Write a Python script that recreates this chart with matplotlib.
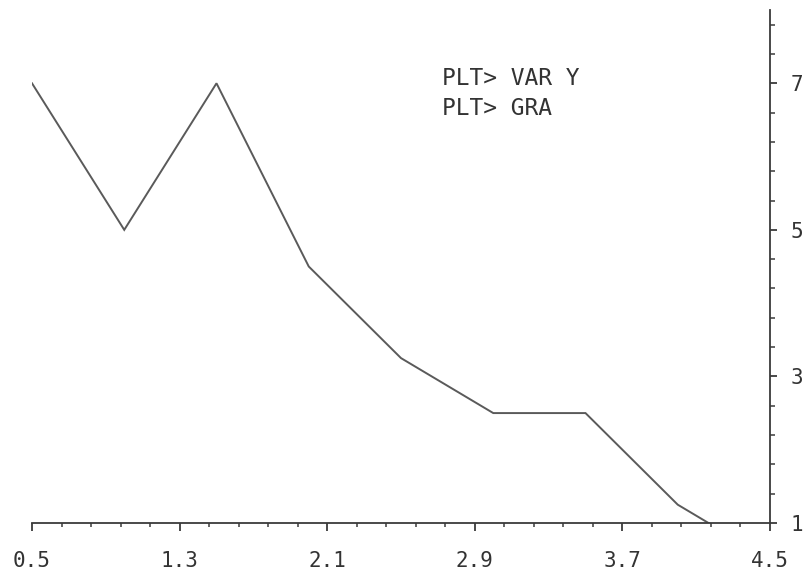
import numpy as np
import matplotlib.pyplot as plt
from matplotlib.ticker import FixedLocator

# data
x = [0.5, 1.0, 1.5, 2.0, 2.5, 3.0, 3.5, 4.0, 4.5]
y = [7.0, 5.0, 7.0, 4.5, 3.25, 2.5, 2.5, 1.25, 0.5]
xticks = [0.5, 1.3, 2.1, 2.9, 3.7, 4.5]
yticks = [1, 3, 5, 7]
prompt_lines = ["PLT> VAR Y", "PLT> GRA"]

ink = "#3a3a3a"
plt.rcParams["font.family"] = ["DejaVu Sans Mono"]

fig = plt.figure(figsize=(8.07, 5.72), dpi=100)
ax = fig.add_axes([32 / 807, 49 / 572, (770 - 32) / 807, (523 - 10) / 572])

ax.plot(x, y, color="#5a5a5a", lw=1.4, solid_joinstyle="miter")

ax.set_xlim(0.5, 4.5)
ax.set_ylim(1, 8)

ax.spines["top"].set_visible(False)
ax.spines["left"].set_visible(False)
for s in ("bottom", "right"):
    ax.spines[s].set_color(ink)
    ax.spines[s].set_linewidth(1.3)

ax.xaxis.set_major_locator(FixedLocator(xticks))
ax.set_xticklabels(["%.1f" % v for v in xticks])
ax.xaxis.set_minor_locator(FixedLocator(np.arange(0.5, 4.51, 0.16)))
ax.yaxis.tick_right()
ax.yaxis.set_major_locator(FixedLocator(yticks))
ax.set_yticklabels([str(v) for v in yticks])
ax.yaxis.set_minor_locator(FixedLocator(np.arange(1, 8.01, 0.4)))

ax.tick_params(axis="x", which="major", direction="out", length=6, width=1.3,
               color=ink, labelcolor="#333333", labelsize=15, pad=14)
ax.tick_params(axis="x", which="minor", direction="out", length=3, width=1.1, color=ink)
ax.tick_params(axis="y", which="major", direction="out", length=5, width=1.3,
               color=ink, labelcolor="#333333", labelsize=15, pad=10)
ax.tick_params(axis="y", which="minor", direction="out", length=3.5, width=1.1, color=ink)

# prompt text, placed in pixels from the top-left corner
for i, line in enumerate(prompt_lines):
    ax.text(442, 572 - (85 + 30 * i), line, transform=None, fontsize=16.5,
            color="#333333", va="baseline", ha="left")

fig.savefig("out.png", dpi=100, facecolor="white")
